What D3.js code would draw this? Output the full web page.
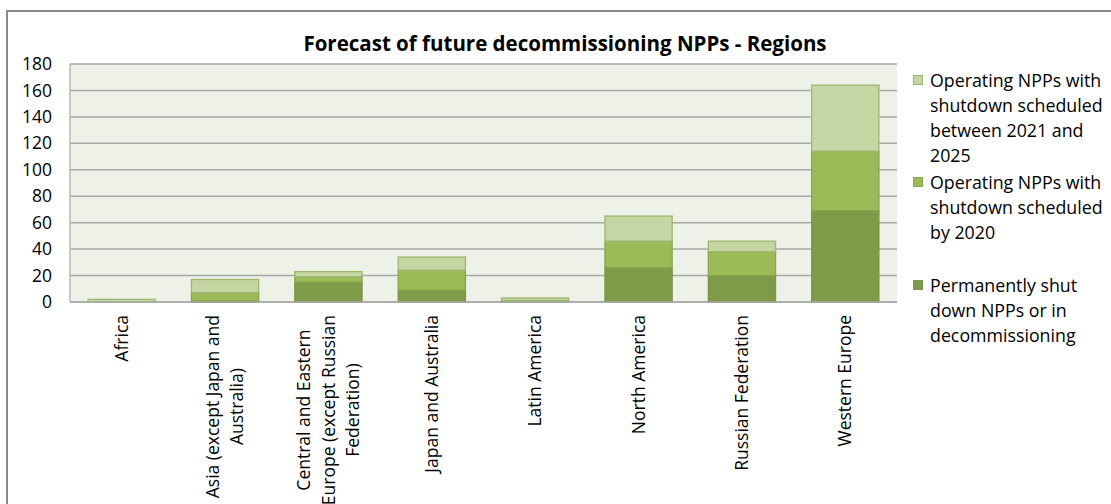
<!DOCTYPE html>
<html>
<head>
<meta charset="utf-8">
<script src="https://cdn.jsdelivr.net/npm/d3@7"></script>
<style>
  body { margin: 0; background: #fff; }
  text { font-family: "Open Sans", sans-serif; fill: #000; }
</style>
</head>
<body>
<svg class="chart" width="1111" height="504"></svg>
<script>
var regions = ["Africa", "Asia (except Japan and Australia)", "Central and Eastern Europe (except Russian Federation)",
    "Japan and Australia", "Latin America", "North America", "Russian Federation", "Western Europe"];
var regionLines = [
    ["Africa"],
    ["Asia (except Japan and", "Australia)"],
    ["Central and Eastern", "Europe (except Russian", "Federation)"],
    ["Japan and Australia"],
    ["Latin America"],
    ["North America"],
    ["Russian Federation"],
    ["Western Europe"]
];
var shutDown   = [0, 1, 15, 9, 0, 26, 20, 69];
var by2020     = [0, 6, 4, 15, 1, 20, 18, 45];
var by2025     = [2, 10, 4, 10, 2, 19, 8, 50];
var yTicks = [0, 20, 40, 60, 80, 100, 120, 140, 160, 180];
var seriesNames = ["Permanently shut down NPPs or in decommissioning",
    "Operating NPPs with shutdown scheduled by 2020",
    "Operating NPPs with shutdown scheduled between 2021 and 2025"];
var legendLines = [
    ["Operating NPPs with", "shutdown scheduled", "between 2021 and", "2025"],
    ["Operating NPPs with", "shutdown scheduled", "by 2020"],
    ["Permanently shut", "down NPPs or in", "decommissioning"]
];

var colors = ["#7F9A48", "#9BBB59", "#C5D6A4"];
var strokes = ["#7A9545", "#86A54C", "#9CB86A"];

var svg = d3.select(".chart"),
    margin = { top: 64, right: 214, bottom: 202, left: 70 },
    width = +svg.attr("width") - margin.left - margin.right,
    height = +svg.attr("height") - margin.top - margin.bottom;

// outer chart border (only left and top visible)
svg.append("path")
    .attr("d", "M7,520 L7,11 L1130,11")
    .attr("fill", "none")
    .attr("stroke", "#888")
    .attr("stroke-width", 2);

svg.append("text")
    .attr("x", 565)
    .attr("y", 51)
    .attr("text-anchor", "middle")
    .style("font-weight", "bold")
    .style("font-size", "20.5px")
    .text("Forecast of future decommissioning NPPs - Regions");

var x = d3.scaleBand().domain(regions).range([0, width]).paddingInner(0.35).paddingOuter(0.175),
    y = d3.scaleLinear().domain([0, 180]).range([height, 0]);

var g = svg.append("g")
    .attr("transform", "translate(" + margin.left + "," + margin.top + ")");

g.append("rect")
    .attr("width", width)
    .attr("height", height)
    .attr("fill", "#EEF1E8");

g.append("g")
    .selectAll("line")
    .data(yTicks)
    .enter().append("line")
    .attr("x1", 0).attr("x2", width)
    .attr("y1", function(d) { return y(d); })
    .attr("y2", function(d) { return y(d); })
    .attr("stroke", "#A8A8A8")
    .attr("stroke-width", 1.5);

g.append("line")
    .attr("x1", 0).attr("x2", 0)
    .attr("y1", 0).attr("y2", height)
    .attr("stroke", "#B8B8B8")
    .attr("stroke-width", 1.5);

var yAxis = g.append("g")
    .call(d3.axisLeft(y).tickValues(yTicks).tickSize(0).tickPadding(18));
yAxis.select(".domain").remove();
yAxis.selectAll("text")
    .style("font-family", "'Open Sans', sans-serif")
    .style("font-size", "17.5px");

var table = regions.map(function(r, i) {
    return { region: r, s0: shutDown[i], s1: by2020[i], s2: by2025[i] };
});
var stack = d3.stack().keys(["s0", "s1", "s2"])(table);

g.selectAll(".series")
    .data(stack)
    .enter().append("g")
    .attr("class", "series")
    .attr("fill", function(d, i) { return colors[i]; })
    .attr("stroke", function(d, i) { return strokes[i]; })
    .selectAll("rect")
    .data(function(d) { return d.filter(function(p) { return p[1] - p[0] > 0; }); })
    .enter().append("rect")
    .attr("x", function(d) { return x(d.data.region); })
    .attr("y", function(d) { return y(d[1]); })
    .attr("width", x.bandwidth())
    .attr("height", function(d) { return y(d[0]) - y(d[1]); })
    .attr("stroke-width", 1.3);

g.append("line")
    .attr("x1", 0).attr("x2", width)
    .attr("y1", height).attr("y2", height)
    .attr("stroke", "#A8A8A8")
    .attr("stroke-width", 1.5);

// category labels, rotated and centred line by line
var labels = g.selectAll(".xlabel")
    .data(regions)
    .enter().append("g")
    .attr("class", "xlabel")
    .attr("transform", function(d) {
        return "translate(" + (x(d) + x.bandwidth() / 2) + "," + (height + 13) + ") rotate(-90)";
    });

labels.each(function(d, i) {
    var lines = regionLines[i], n = lines.length, sel = d3.select(this);
    var texts = lines.map(function(l, j) {
        return sel.append("text")
            .attr("y", (j - (n - 1) / 2) * 24.5)
            .attr("dy", "0.35em")
            .attr("text-anchor", "middle")
            .style("font-size", "17.5px")
            .text(l);
    });
    var maxLen = d3.max(texts, function(t) { return t.node().getComputedTextLength(); });
    texts.forEach(function(t) { t.attr("x", -maxLen / 2); });
});

// legend
var legendTop = [86.5, 188.5, 291.5];
var legendColor = [2, 1, 0];
var legend = svg.append("g").attr("class", "legend");
legendLines.forEach(function(lines, i) {
    var k = legendColor[i];
    legend.append("rect")
        .attr("x", 913.5).attr("y", legendTop[i] - 11)
        .attr("width", 9).attr("height", 9)
        .attr("fill", colors[k])
        .attr("stroke", strokes[k]);
    lines.forEach(function(l, j) {
        legend.append("text")
            .attr("x", 930)
            .attr("y", legendTop[i] + j * 25)
            .style("font-size", "17.8px")
            .text(l);
    });
});
</script>
</body>
</html>
